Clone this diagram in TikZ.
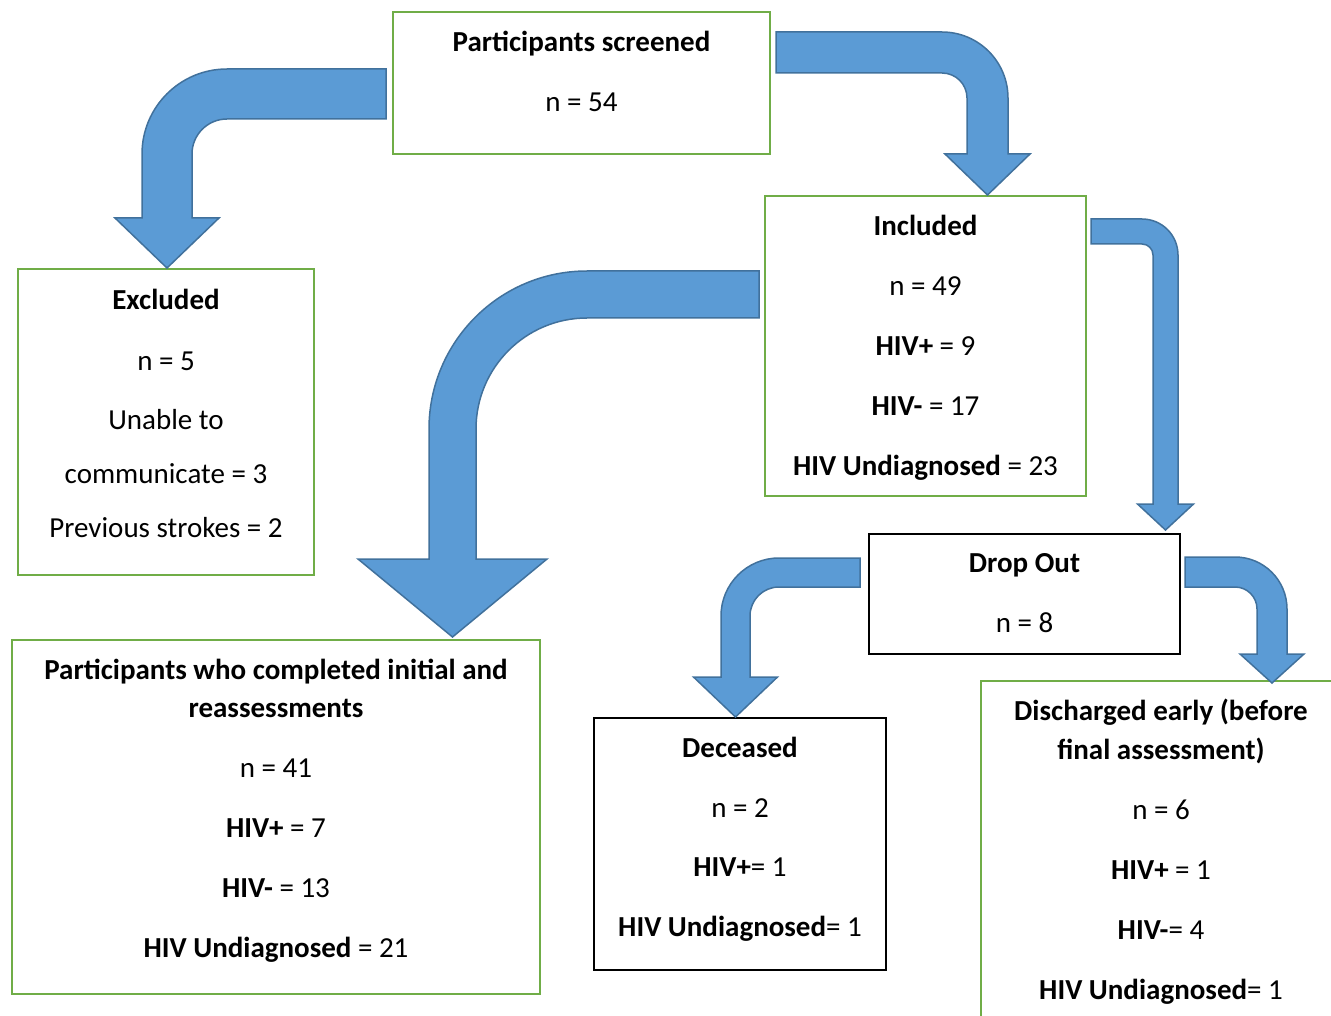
\documentclass[tikz,border=0pt]{standalone}
\usepackage{fontspec}
\setmainfont{Carlito}
\usetikzlibrary{positioning}
\definecolor{boxgreen}{HTML}{70AD47}
\definecolor{arrowblue}{HTML}{5B9BD5}
\definecolor{arrowedge}{HTML}{41719C}

\tikzset{
  greenbox/.style={draw=boxgreen, line width=2.5pt, rectangle, inner sep=0pt, outer sep=0pt},
  blackbox/.style={draw=black, line width=1.8pt, rectangle, inner sep=0pt, outer sep=0pt},
  boxtext/.style={align=center, inner sep=0pt, font=\fontsize{29}{38}\selectfont},
  bentarrow/.style={fill=arrowblue, draw=arrowedge, line width=1.5pt, line join=miter}
}

\begin{document}
\begin{tikzpicture}[x=1pt,y=1pt]

\clip (0,0) rectangle (1331,-1016);

% boxes
\node[greenbox, minimum width=377pt, minimum height=142pt] (screened) at (581.5,-83) {};
\node[greenbox, minimum width=321pt, minimum height=300pt] (included) at (925.5,-346) {};
\node[greenbox, minimum width=296pt, minimum height=306pt] (excluded) at (166,-422) {};
\node[greenbox, minimum width=528pt, minimum height=354pt] (completed) at (276,-817) {};
\node[blackbox, minimum width=311pt, minimum height=120pt] (dropout) at (1024.5,-594) {};
\node[blackbox, minimum width=292pt, minimum height=252pt] (deceased) at (740,-844) {};
\node[greenbox, minimum width=360pt, minimum height=349pt] (discharged) at (1161,-855.5) {};

% texts
\node[boxtext, below=12.4pt of screened.north] (screenedtxt)
  {\strut\textbf{Participants screened}\\[22pt] n = 54};
\node[boxtext, below=12.4pt of included.north] (includedtxt)
  {\strut\textbf{Included}\\[22pt] n = 49\\[22pt] \textbf{HIV+} = 9\\[22pt]
   \textbf{HIV-} = 17\\[22pt] \textbf{HIV Undiagnosed} = 23};
\node[boxtext, below=13.4pt of excluded.north] (excludedtxt)
  {\strut\textbf{Excluded}\\[23pt] n = 5\\[21pt] Unable to\\[16pt]
   communicate = 3\\[16pt] Previous strokes = 2};
\node[boxtext, below=12.4pt of completed.north] (completedtxt)
  {\strut\textbf{Participants who completed initial and}\\ \textbf{reassessments}\\[22pt]
   n = 41\\[22pt] \textbf{HIV+} = 7\\[22pt] \textbf{HIV-} = 13\\[22pt]
   \textbf{HIV Undiagnosed} = 21};
\node[boxtext, below=11.4pt of dropout.north] (dropouttxt)
  {\strut\textbf{Drop Out}\\[22pt] n = 8};
\node[boxtext, below=12.4pt of deceased.north] (deceasedtxt)
  {\strut\textbf{Deceased}\\[22pt] n = 2\\[21pt] \textbf{HIV+}= 1\\[22pt]
   \textbf{HIV Undiagnosed}= 1};
\node[boxtext, below=12.4pt of discharged.north] (dischargedtxt)
  {\strut\textbf{Discharged early (before}\\[1pt] \textbf{final assessment)}\\[22pt]
   n = 6\\[22pt] \textbf{HIV+} = 1\\[22pt] \textbf{HIV-}= 4\\[22pt]
   \textbf{HIV Undiagnosed}= 1};

% bent arrows
\draw[bentarrow] (386,-69) -- (227,-69) arc[start angle=90, end angle=180, radius=85]
  -- (142,-218) -- (115,-218) -- (167,-268) -- (219,-218) -- (192,-218)
  -- (192,-154) arc[start angle=180, end angle=90, radius=35] -- (386,-119) -- cycle;

\draw[bentarrow] (776,-32) -- (942,-32) arc[start angle=90, end angle=0, radius=66]
  -- (1008,-154) -- (1030,-154) -- (987.5,-195) -- (945,-154) -- (967,-154)
  -- (967,-98) arc[start angle=0, end angle=90, radius=25] -- (776,-73) -- cycle;

\draw[bentarrow] (759,-271) -- (587,-271) arc[start angle=90, end angle=180, radius=158]
  -- (429,-559) -- (358,-559) -- (452.5,-637) -- (547,-559) -- (476,-559)
  -- (476,-429) arc[start angle=180, end angle=90, radius=111] -- (759,-318) -- cycle;

\draw[bentarrow] (1091,-219) -- (1142,-219) arc[start angle=90, end angle=0, radius=36]
  -- (1178,-504) -- (1193.5,-504) -- (1165.5,-530) -- (1137.5,-504) -- (1153,-504)
  -- (1153,-255) arc[start angle=0, end angle=90, radius=11] -- (1091,-244) -- cycle;

\draw[bentarrow] (860,-558) -- (779,-558) arc[start angle=90, end angle=180, radius=58]
  -- (721,-677) -- (693.5,-677) -- (735.5,-717) -- (777.5,-677) -- (750,-677)
  -- (750,-616) arc[start angle=180, end angle=90, radius=29] -- (860,-587) -- cycle;

\draw[bentarrow] (1185,-557) -- (1235,-557) arc[start angle=90, end angle=0, radius=52]
  -- (1287,-654) -- (1304,-654) -- (1272,-683) -- (1240,-654) -- (1257,-654)
  -- (1257,-609) arc[start angle=0, end angle=90, radius=22] -- (1185,-587) -- cycle;

\end{tikzpicture}
\end{document}
